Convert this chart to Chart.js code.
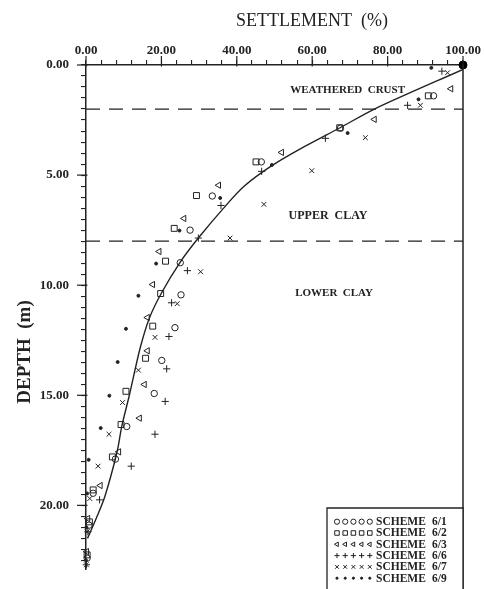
<!DOCTYPE html>
<html><head><meta charset="utf-8">
<script src="https://cdn.jsdelivr.net/npm/chart.js@4/dist/chart.umd.min.js"></script>
<style>html,body{margin:0;padding:0;background:#fff}#wrap{width:484px;height:589px;position:relative}</style>
</head><body><div id="wrap"><canvas id="c"></canvas></div>
<script>
// ---- data (settlement %, depth m) ----
const settleMajor = [0, 20, 40, 60, 80, 100];
const depthMajor = [0, 5, 10, 15, 20];
const layerDepths = [2.0, 8.0];
const schemeNames = ['6/1', '6/2', '6/3', '6/6', '6/7', '6/9'];

const s61Settle = [92.2, 67.5, 46.5, 33.5, 27.6, 25.0, 25.2, 23.6, 20.1, 18.1, 10.8, 7.8, 1.9, 0.8, 0.3];
const s61Depth  = [1.40, 2.87, 4.40, 5.95, 7.50, 8.98, 10.44, 11.93, 13.42, 14.92, 16.42, 17.90, 19.45, 20.9, 22.4];

const s62Settle = [90.8, 67.3, 45.1, 29.3, 23.4, 21.1, 19.8, 17.7, 15.8, 10.6, 9.3, 7.0, 1.9, 0.9, 0.3];
const s62Depth  = [1.40, 2.85, 4.40, 5.93, 7.42, 8.91, 10.38, 11.86, 13.32, 14.82, 16.33, 17.80, 19.30, 20.75, 22.25];

const s63Settle = [96.8, 76.5, 51.9, 35.2, 26.0, 19.4, 17.7, 16.3, 16.3, 15.5, 14.2, 8.7, 3.8, 0.5, 0.2];
const s63Depth  = [1.08, 2.47, 3.97, 5.46, 6.97, 8.47, 9.97, 11.47, 12.98, 14.51, 16.04, 17.57, 19.10, 20.6, 22.1];

const s66Settle = [94.4, 85.3, 63.5, 46.6, 35.8, 29.8, 26.9, 22.7, 22.0, 21.4, 21.0, 18.3, 12.0, 3.6, 0.5, 0.1];
const s66Depth  = [0.28, 1.83, 3.33, 4.83, 6.38, 7.86, 9.34, 10.80, 12.33, 13.80, 15.28, 16.77, 18.22, 19.75, 21.2, 22.7];

const s67Settle = [95.9, 88.7, 74.1, 59.9, 47.2, 38.2, 30.4, 24.2, 18.3, 13.9, 9.7, 6.1, 3.2, 1.0, 0.3, 0.1];
const s67Depth  = [0.35, 1.83, 3.30, 4.80, 6.33, 7.86, 9.39, 10.84, 12.37, 13.86, 15.33, 16.77, 18.22, 19.69, 21.2, 22.7];

const s69Settle = [91.6, 88.2, 69.4, 49.3, 35.6, 24.8, 18.6, 13.9, 10.6, 8.4, 6.2, 3.9, 0.7, 0.3, 0.1, 0.0];
const s69Depth  = [0.13, 1.56, 3.09, 4.54, 6.04, 7.52, 9.02, 10.48, 11.98, 13.49, 15.02, 16.49, 17.93, 19.46, 21.0, 22.5];

const curveSettle = [100, 76.5, 67.4, 58.0, 49.5, 42.0, 36.5, 29.8, 25.0, 20.2, 16.8, 14.3, 11.5, 9.5, 8.2, 5.0, 2.7, 0.4];
const curveDepth  = [0.2, 2.0, 2.85, 3.7, 4.55, 5.5, 6.5, 7.86, 8.95, 10.3, 11.5, 12.9, 15.0, 16.4, 17.6, 19.6, 20.6, 21.5];

const originSettle = [100];
const originDepth = [0];

// ---- rendering ----
const INK = '#222';
const FONT = '"Liberation Serif", "Times New Roman", serif';
const pts = (xs, ys) => xs.map((v, i) => ({x: v, y: ys[i]}));

const markerStyles = [
  {pointStyle: 'circle', radius: 3.2, rotation: 0, fill: false},
  {pointStyle: 'rect', radius: 4.2, rotation: 0, fill: false},
  {pointStyle: 'triangle', radius: 3.6, rotation: -90, fill: false},
  {pointStyle: 'cross', radius: 3.6, rotation: 0, fill: false},
  {pointStyle: 'crossRot', radius: 3.4, rotation: 0, fill: false},
  {pointStyle: 'circle', radius: 1.5, rotation: 0, fill: true}
];
const seriesX = [s61Settle, s62Settle, s63Settle, s66Settle, s67Settle, s69Settle];
const seriesY = [s61Depth, s62Depth, s63Depth, s66Depth, s67Depth, s69Depth];

const datasets = [];
datasets.push({
  label: 'curve', data: pts(curveSettle, curveDepth), showLine: true, tension: 0.3,
  borderColor: INK, borderWidth: 1.4, pointRadius: 0, fill: false, order: 5
});
layerDepths.forEach(d => datasets.push({
  label: 'layer', data: [{x: 0, y: d}, {x: 100, y: d}], showLine: true, borderDash: [14, 9],
  borderColor: INK, borderWidth: 1.2, pointRadius: 0, fill: false, order: 6
}));
schemeNames.forEach((n, i) => {
  const m = markerStyles[i];
  datasets.push({
    label: 'SCHEME ' + n, data: pts(seriesX[i], seriesY[i]), showLine: false,
    pointStyle: m.pointStyle, pointRadius: m.radius, pointRotation: m.rotation,
    pointBorderColor: INK, pointBackgroundColor: m.fill ? INK : 'rgba(0,0,0,0)',
    pointBorderWidth: 1, clip: false, order: 1
  });
});
datasets.push({
  label: 'origin', data: pts(originSettle, originDepth), showLine: false,
  pointStyle: 'circle', pointRadius: 4, pointBackgroundColor: '#000', pointBorderColor: '#000', clip: false, order: 0
});

const near = (v, arr) => arr.some(m => Math.abs(v - m) < 1e-6);

function mark(ctx, m, x, y, r) {
  ctx.save();
  ctx.strokeStyle = INK; ctx.fillStyle = m.fill ? INK : 'rgba(0,0,0,0)'; ctx.lineWidth = 1;
  if (Chart.helpers && Chart.helpers.drawPoint) {
    Chart.helpers.drawPoint(ctx, {pointStyle: m.pointStyle, rotation: m.rotation, radius: r, borderWidth: 1}, x, y);
  }
  ctx.restore();
}

const decor = {
  id: 'decor',
  afterDraw(chart) {
    const {ctx, chartArea: a, scales: {x, y}} = chart;
    ctx.save();
    ctx.strokeStyle = INK; ctx.fillStyle = INK;
    // right frame line
    ctx.lineWidth = 1.5;
    ctx.beginPath(); ctx.moveTo(a.right, a.top); ctx.lineTo(a.right, chart.height); ctx.stroke();
    // long major ticks
    ctx.lineWidth = 1.2;
    settleMajor.forEach(v => { const px = x.getPixelForValue(v); ctx.beginPath(); ctx.moveTo(px, a.top - 9); ctx.lineTo(px, a.top + 1.5); ctx.stroke(); });
    depthMajor.forEach(v => { const py = y.getPixelForValue(v); ctx.beginPath(); ctx.moveTo(a.left - 9, py); ctx.lineTo(a.left + 1.5, py); ctx.stroke(); });
    // axis titles
    ctx.textAlign = 'center'; ctx.textBaseline = 'middle';
    ctx.font = '18px ' + FONT;
    ctx.fillText('SETTLEMENT  (%)', 312, 21);
    ctx.save(); ctx.translate(25, 352); ctx.rotate(-Math.PI / 2);
    ctx.font = 'bold 19px ' + FONT; ctx.fillText('DEPTH  (m)', 0, 0); ctx.restore();
    // layer names
    ctx.font = 'bold 11px ' + FONT;
    ctx.fillText('WEATHERED  CRUST', x.getPixelForValue(69.4), y.getPixelForValue(1.14));
    ctx.font = 'bold 12px ' + FONT;
    ctx.fillText('UPPER  CLAY', x.getPixelForValue(64.2), y.getPixelForValue(6.86));
    ctx.font = 'bold 11px ' + FONT;
    ctx.fillText('LOWER  CLAY', x.getPixelForValue(65.8), y.getPixelForValue(10.35));
    // legend box
    const bx = 327, by = 508;
    ctx.fillStyle = '#fff'; ctx.fillRect(bx, by, a.right - bx, chart.height - by);
    ctx.lineWidth = 1.3; ctx.strokeStyle = INK;
    ctx.beginPath(); ctx.moveTo(bx, chart.height + 2); ctx.lineTo(bx, by); ctx.lineTo(a.right, by); ctx.lineTo(a.right, chart.height + 2); ctx.stroke();
    ctx.textAlign = 'left';
    schemeNames.forEach((n, i) => {
      const ry = 521.7 + i * 11.3;
      const m = markerStyles[i];
      for (let k = 0; k < 5; k++) {
        mark(ctx, m, 337 + k * 8.2, ry, m.fill ? 1.1 : (m.pointStyle === 'rect' ? 3.2 : 2.6));
      }
      ctx.fillStyle = INK;
      ctx.font = 'bold 11.5px ' + FONT;
      ctx.fillText('SCHEME', 376, ry + 0.5);
      ctx.fillText(n, 432, ry + 0.5);
    });
    ctx.restore();
  }
};

new Chart(document.getElementById('c'), {
  type: 'scatter',
  data: {datasets},
  options: {
    responsive: true, maintainAspectRatio: false, animation: false,
    layout: {padding: {left: 0, right: 21, top: 0, bottom: 0}},
    plugins: {legend: {display: false}, tooltip: {enabled: false}},
    scales: {
      x: {
        type: 'linear', position: 'top', min: 0, max: 100,
        afterFit: s => { s.height = 65; },
        ticks: {stepSize: 4, autoSkip: false, maxRotation: 0, padding: 2, color: INK,
          font: {family: FONT, size: 13, weight: 'bold'},
          callback: v => near(v, settleMajor) ? v.toFixed(2) : ''},
        grid: {display: true, drawOnChartArea: false, drawTicks: true, tickLength: 5, color: INK, lineWidth: 1.1},
        border: {display: true, color: INK, width: 1.5},
        title: {display: false}
      },
      y: {
        type: 'linear', position: 'left', reverse: true, min: 0, max: 22.9,
        afterFit: s => { s.width = 86; },
        ticks: {stepSize: 0.5, autoSkip: false, includeBounds: false, padding: 12, color: INK,
          font: {family: FONT, size: 13, weight: 'bold'},
          callback: v => near(v, depthMajor) ? v.toFixed(2) : ''},
        grid: {display: true, drawOnChartArea: false, drawTicks: true, tickLength: 5, color: INK, lineWidth: 1.1},
        border: {display: true, color: INK, width: 1.5},
        title: {display: false}
      }
    }
  },
  plugins: [decor]
});
</script>
</body></html>
